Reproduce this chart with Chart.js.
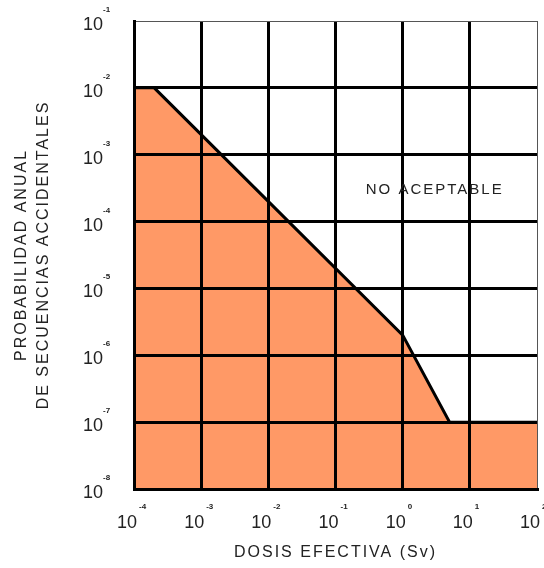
<!DOCTYPE html>
<html lang="es">
<head>
<meta charset="UTF-8" />
<title>Probabilidad anual vs dosis efectiva</title>
<script src="https://cdn.jsdelivr.net/npm/chart.js"></script>
<style>
  html, body { margin: 0; padding: 0; background: #fff; }
</style>
</head>
<body>
<canvas id="riskChart" width="544" height="568"></canvas>
<script>
  // valores
  const doseSv = [1e-4, 2e-4, 1, 5, 100];
  const annualProb = [1e-2, 1e-2, 2e-6, 1e-7, 1e-7];

  const xTickValues = [1e-4, 1e-3, 1e-2, 1e-1, 1, 10, 100];
  const xTickExp = ["-4", "-3", "-2", "-1", "0", "1", "2"];
  const yTickValues = [1e-1, 1e-2, 1e-3, 1e-4, 1e-5, 1e-6, 1e-7, 1e-8];
  const yTickExp = ["-1", "-2", "-3", "-4", "-5", "-6", "-7", "-8"];

  const regionLabel = "NO ACEPTABLE";
  const regionAt = { x: 3, y: 3e-4 };

  const FONT = "'Liberation Sans', Arial, sans-serif";
  const TEXT = "#222";

  const points = doseSv.map((d, i) => ({ x: d, y: annualProb[i] }));

  // rejilla: lineas gruesas salvo el borde superior y derecho
  function gridWidth(edgeValue) {
    return (c) => (c.tick && c.tick.value === edgeValue ? 1 : 3);
  }
  function gridColor(edgeValue) {
    return (c) => (c.tick && c.tick.value === edgeValue ? "#555" : "#000");
  }

  const customLabels = {
    id: "customLabels",
    beforeDraw(chart) {
      chart.ctx.letterSpacing = "2px";
    },
    afterDatasetsDraw(chart) {
      // volver a pintar la rejilla encima del relleno
      chart.scales.x.drawGrid(chart.chartArea);
      chart.scales.y.drawGrid(chart.chartArea);
      chart.scales.x.drawBorder();
      chart.scales.y.drawBorder();
    },
    afterDraw(chart) {
      const ctx = chart.ctx;
      const xs = chart.scales.x;
      const ys = chart.scales.y;
      const area = chart.chartArea;
      ctx.save();
      ctx.fillStyle = TEXT;
      ctx.letterSpacing = "0px";
      ctx.textBaseline = "alphabetic";

      xTickValues.forEach((v, i) => {
        const px = xs.getPixelForValue(v);
        ctx.font = "18px " + FONT;
        ctx.textAlign = "right";
        ctx.fillText("10", px + 3, area.bottom + 39);
        ctx.font = "bold 8px " + FONT;
        ctx.textAlign = "left";
        ctx.fillText(xTickExp[i], px + 5, area.bottom + 20);
      });

      yTickValues.forEach((v, i) => {
        const py = ys.getPixelForValue(v);
        ctx.font = "18px " + FONT;
        ctx.textAlign = "right";
        ctx.fillText("10", area.left - 31, py + 9);
        ctx.font = "bold 8px " + FONT;
        ctx.textAlign = "left";
        ctx.fillText(yTickExp[i], area.left - 31, py - 9);
      });

      ctx.letterSpacing = "2px";
      ctx.font = "15px " + FONT;
      ctx.textAlign = "center";
      ctx.textBaseline = "middle";
      ctx.fillText(regionLabel, xs.getPixelForValue(regionAt.x), ys.getPixelForValue(regionAt.y));
      ctx.restore();
    }
  };

  new Chart(document.getElementById("riskChart"), {
    type: "line",
    data: {
      datasets: [
        {
          data: points,
          borderColor: "#000",
          borderWidth: 3,
          backgroundColor: "#FF9966",
          fill: "start",
          pointRadius: 0,
          tension: 0
        }
      ]
    },
    options: {
      responsive: false,
      animation: false,
      layout: { padding: { top: 21, right: 7, left: 0, bottom: 0 } },
      plugins: {
        legend: { display: false },
        tooltip: { enabled: false }
      },
      scales: {
        x: {
          type: "logarithmic",
          min: 1e-4,
          max: 100,
          afterBuildTicks: (s) => { s.ticks = xTickValues.map((v) => ({ value: v })); },
          ticks: { display: false },
          grid: { color: gridColor(100), lineWidth: gridWidth(100), drawTicks: false },
          border: { display: true, color: "#000", width: 3 },
          title: {
            display: true,
            text: "DOSIS EFECTIVA (Sv)",
            color: TEXT,
            font: { family: FONT, size: 16 },
            padding: { top: 54.4, bottom: 5.4 }
          }
        },
        y: {
          type: "logarithmic",
          min: 1e-8,
          max: 1e-1,
          afterBuildTicks: (s) => { s.ticks = yTickValues.map((v) => ({ value: v })); },
          ticks: { display: false },
          grid: { color: gridColor(1e-1), lineWidth: gridWidth(1e-1), drawTicks: false },
          border: { display: true, color: "#000", width: 3 },
          title: {
            display: true,
            text: ["PROBABILIDAD ANUAL", "DE SECUENCIAS ACCIDENTALES"],
            color: TEXT,
            font: { family: FONT, size: 16, lineHeight: "22px" },
            padding: { top: 10.5, bottom: 79.5 }
          }
        }
      }
    },
    plugins: [customLabels]
  });
</script>
</body>
</html>
